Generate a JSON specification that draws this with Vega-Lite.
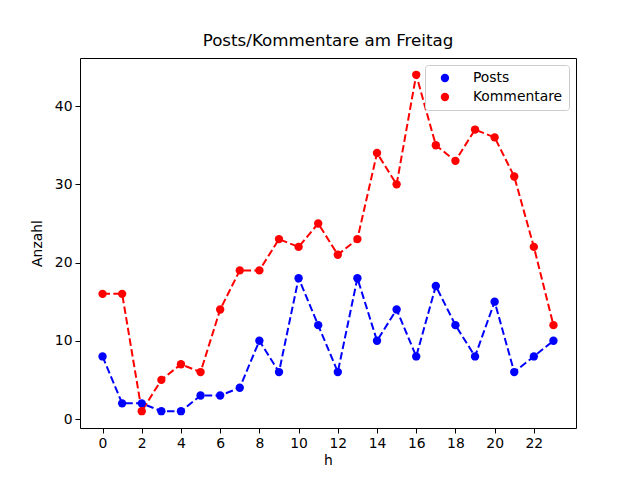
{
  "$schema": "https://vega.github.io/schema/vega-lite/v6.json",
  "autosize": {"type": "none"},
  "width": 496,
  "height": 370,
  "padding": {"left": 80, "top": 58, "right": 64, "bottom": 52},
  "background": "white",
  "title": {"text": "Posts/Kommentare am Freitag", "font": "DejaVu Sans", "fontSize": 16.7, "fontWeight": "normal", "offset": 8, "color": "black"},
  "config": {
    "view": {"stroke": "black", "strokeWidth": 1},
    "axis": {
      "grid": false, "domain": false, "tickColor": "black", "tickSize": 5, "tickWidth": 1,
      "labelFont": "DejaVu Sans", "labelFontSize": 13.9, "labelColor": "black", "labelPadding": 3,
      "titleFont": "DejaVu Sans", "titleFontSize": 13.9, "titleFontWeight": "normal", "titleColor": "black"
    },
    "legend": {
      "title": null, "orient": "top-right", "offset": 7, "padding": 6,
      "strokeColor": "#cccccc", "fillColor": "white", "cornerRadius": 3,
      "labelFont": "DejaVu Sans", "labelFontSize": 13.9, "labelColor": "black", "labelOffset": 21,
      "symbolType": "circle", "symbolSize": 70, "symbolStrokeWidth": 0, "symbolOffset": 7, "rowPadding": 4
    }
  },
  "data": {
    "values": [
      {"h": 0, "serie": "Posts", "anzahl": 8}, {"h": 1, "serie": "Posts", "anzahl": 2},
      {"h": 2, "serie": "Posts", "anzahl": 2}, {"h": 3, "serie": "Posts", "anzahl": 1},
      {"h": 4, "serie": "Posts", "anzahl": 1}, {"h": 5, "serie": "Posts", "anzahl": 3},
      {"h": 6, "serie": "Posts", "anzahl": 3}, {"h": 7, "serie": "Posts", "anzahl": 4},
      {"h": 8, "serie": "Posts", "anzahl": 10}, {"h": 9, "serie": "Posts", "anzahl": 6},
      {"h": 10, "serie": "Posts", "anzahl": 18}, {"h": 11, "serie": "Posts", "anzahl": 12},
      {"h": 12, "serie": "Posts", "anzahl": 6}, {"h": 13, "serie": "Posts", "anzahl": 18},
      {"h": 14, "serie": "Posts", "anzahl": 10}, {"h": 15, "serie": "Posts", "anzahl": 14},
      {"h": 16, "serie": "Posts", "anzahl": 8}, {"h": 17, "serie": "Posts", "anzahl": 17},
      {"h": 18, "serie": "Posts", "anzahl": 12}, {"h": 19, "serie": "Posts", "anzahl": 8},
      {"h": 20, "serie": "Posts", "anzahl": 15}, {"h": 21, "serie": "Posts", "anzahl": 6},
      {"h": 22, "serie": "Posts", "anzahl": 8}, {"h": 23, "serie": "Posts", "anzahl": 10},
      {"h": 0, "serie": "Kommentare", "anzahl": 16}, {"h": 1, "serie": "Kommentare", "anzahl": 16},
      {"h": 2, "serie": "Kommentare", "anzahl": 1}, {"h": 3, "serie": "Kommentare", "anzahl": 5},
      {"h": 4, "serie": "Kommentare", "anzahl": 7}, {"h": 5, "serie": "Kommentare", "anzahl": 6},
      {"h": 6, "serie": "Kommentare", "anzahl": 14}, {"h": 7, "serie": "Kommentare", "anzahl": 19},
      {"h": 8, "serie": "Kommentare", "anzahl": 19}, {"h": 9, "serie": "Kommentare", "anzahl": 23},
      {"h": 10, "serie": "Kommentare", "anzahl": 22}, {"h": 11, "serie": "Kommentare", "anzahl": 25},
      {"h": 12, "serie": "Kommentare", "anzahl": 21}, {"h": 13, "serie": "Kommentare", "anzahl": 23},
      {"h": 14, "serie": "Kommentare", "anzahl": 34}, {"h": 15, "serie": "Kommentare", "anzahl": 30},
      {"h": 16, "serie": "Kommentare", "anzahl": 44}, {"h": 17, "serie": "Kommentare", "anzahl": 35},
      {"h": 18, "serie": "Kommentare", "anzahl": 33}, {"h": 19, "serie": "Kommentare", "anzahl": 37},
      {"h": 20, "serie": "Kommentare", "anzahl": 36}, {"h": 21, "serie": "Kommentare", "anzahl": 31},
      {"h": 22, "serie": "Kommentare", "anzahl": 22}, {"h": 23, "serie": "Kommentare", "anzahl": 12}
    ]
  },
  "encoding": {
    "x": {"field": "h", "type": "quantitative", "title": "h",
      "scale": {"domain": [-1.15, 24.15], "nice": false, "zero": false},
      "axis": {"values": [0, 2, 4, 6, 8, 10, 12, 14, 16, 18, 20, 22], "titlePadding": 4}},
    "y": {"field": "anzahl", "type": "quantitative", "title": "Anzahl",
      "scale": {"domain": [-1.15, 46.15], "nice": false, "zero": false},
      "axis": {"values": [0, 10, 20, 30, 40], "titlePadding": 10}},
    "color": {"field": "serie", "type": "nominal",
      "scale": {"domain": ["Posts", "Kommentare"], "range": ["#0000ff", "#ff0000"]}}
  },
  "layer": [
    {
      "mark": {"type": "line", "strokeWidth": 2, "strokeDash": [7.5, 3.3]}
    },
    {
      "mark": {"type": "point", "filled": true, "opacity": 1, "size": 70}
    }
  ]
}
